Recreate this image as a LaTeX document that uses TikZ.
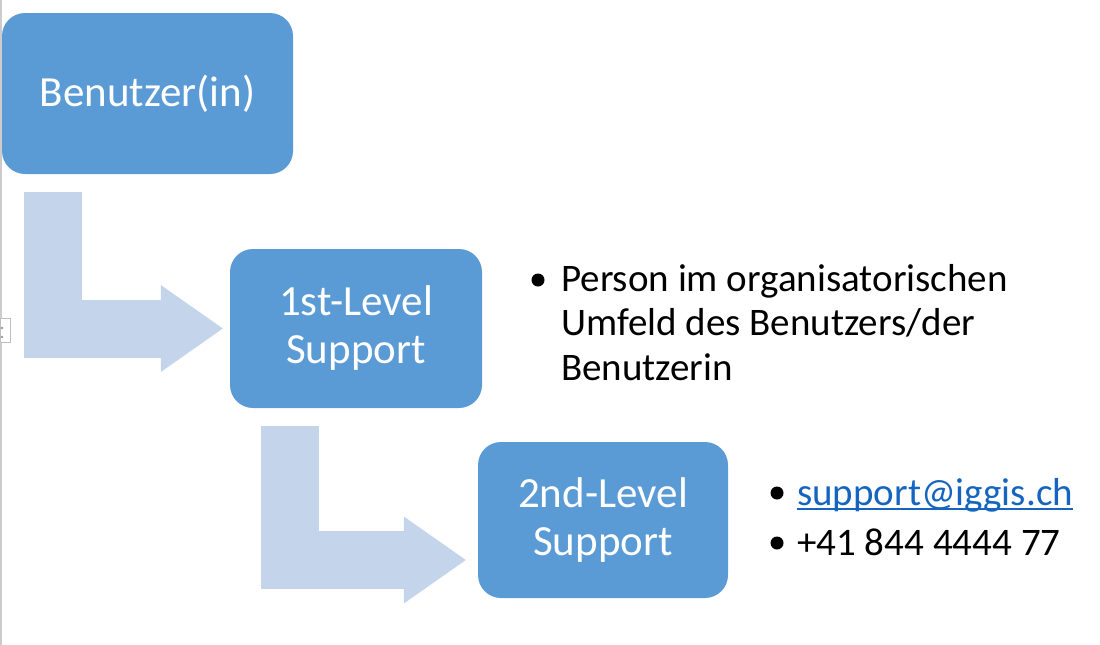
\documentclass[tikz,border=0pt]{standalone}
\usepackage{fontspec}
\setmainfont{Carlito}
\usetikzlibrary{arrows.meta}
\definecolor{boxblue}{HTML}{5B9BD5}
\definecolor{arrowblue}{HTML}{C3D4EB}
\definecolor{linkblue}{HTML}{1565C0}

\begin{document}
\begin{tikzpicture}[x=1pt, y=-1pt,
    level/.style={rectangle, rounded corners=23pt, fill=boxblue, text=white, align=center, inner sep=0pt, font=\fontsize{43}{48}\selectfont},
    elbowarrow/.style={arrowblue, line width=58pt, line join=miter, -{Triangle[length=62pt, width=87pt, line width=0pt]}},
    dot/.style={circle, fill, inner sep=0pt, minimum size=13pt},
    item/.style={anchor=base west, inner sep=0pt, align=left, font=\fontsize{39}{44.5}\selectfont}]
      \useasboundingbox (0,0) rectangle (1100,645);
      \draw[black!20, line width=1.5pt] (1,0) -- (1,645);
      \draw[black!25, fill=white] (0,318) rectangle (10,342);
      \fill[black!40] (2,328) circle (1.3pt);
      \fill[black!40] (2,337) circle (1.3pt);

      \node[level, minimum width=291pt, minimum height=161pt] (user) at (147.5,93.5) {Benutzer(in)};
      \node[level, minimum width=252pt, minimum height=159pt] (first) at (356,328.5) {1st-Level\\Support};
      \node[level, minimum width=250pt, minimum height=156pt] (second) at (603,520) {2nd-Level\\Support};

      \draw[elbowarrow] ([xshift=-95pt, yshift=-18pt]user.south) |- ([xshift=-7pt]first.west);
      \draw[elbowarrow] ([xshift=-66pt, yshift=-18pt]first.south) |- ([xshift=-12pt, yshift=-40pt]second.west);

      \node[dot] (b1) at (538,280) {};
      \node[dot] (b2) at (777,493) {};
      \node[dot] (b3) at (777,543) {};
      \node[item] (t1) at (561,380) {Person im organisatorischen\\Umfeld des Benutzers/der\\Benutzerin};
      \node[item, text=linkblue] (t2) at (797,505) {support@iggis.ch};
      \node[item] (t3) at (797,555) {+41 844 4444 77};
      \draw[linkblue, line width=2pt] ([yshift=-4pt]t2.base west) -- ([yshift=-4pt]t2.base east);
\end{tikzpicture}
\end{document}
